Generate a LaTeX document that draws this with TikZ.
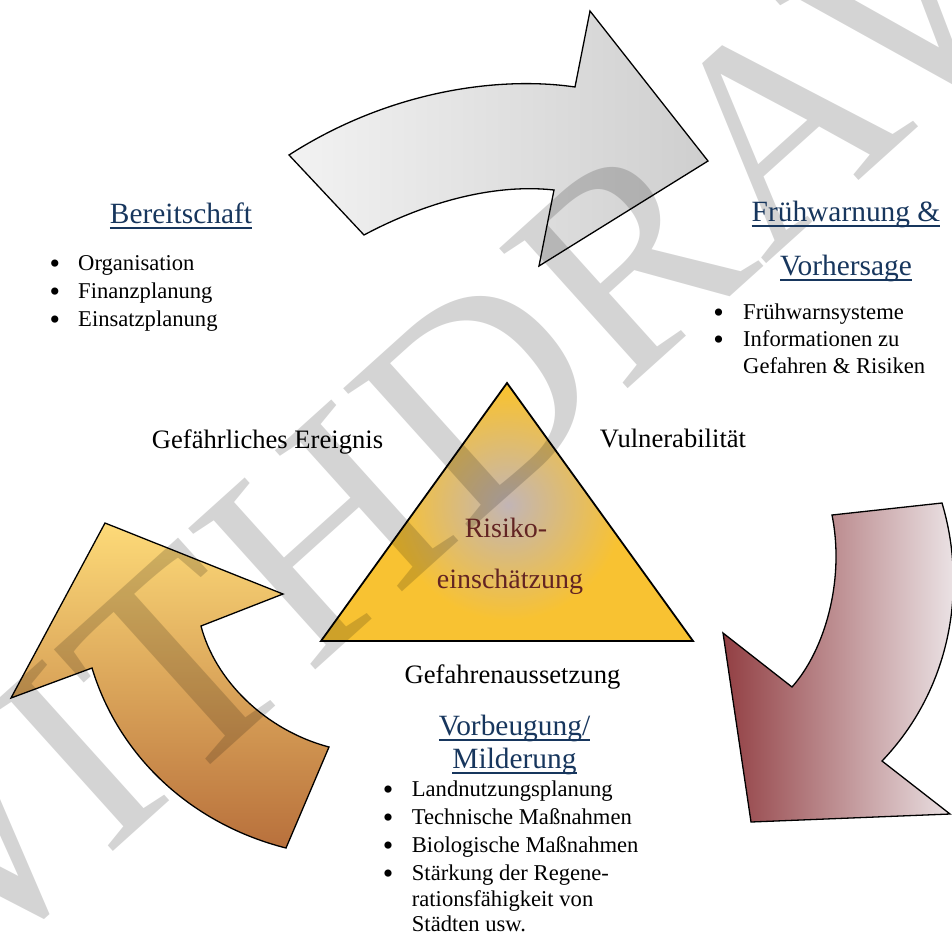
\documentclass[tikz,border=0pt]{standalone}
\usepackage{fontspec}
\setmainfont{Liberation Serif}
\definecolor{navy}{HTML}{17365D}
\definecolor{risk}{HTML}{632423}
\definecolor{triY}{HTML}{F8C232}
\definecolor{glow}{HTML}{C2B5B6}
\newcommand\hul[1]{\setbox0=\hbox{#1}\rlap{\rule[-0.19em]{\wd0}{0.07em}}\box0}
\newcommand\bul{\raisebox{-3pt}{\makebox[0pt][c]{•}}}
\tikzset{
  head/.style={inner sep=0, anchor=base, text=navy, font=\fontsize{29.4}{32}\selectfont},
  lbl/.style={inner sep=0, anchor=base, font=\fontsize{26.6}{30}\selectfont},
  item/.style={inner sep=0, anchor=base west, font=\fontsize{22.6}{26}\selectfont},
  dot/.style={inner sep=0, anchor=base, font=\fontsize{30}{30}\selectfont},
  arrowshape/.style={draw=black, line width=1.3pt, line join=miter},
}
\begin{document}
\begin{tikzpicture}[x=1pt,y=-1pt]
\useasboundingbox (0,0) rectangle (952,937);

% top grey arrow
\shadedraw[arrowshape, left color=black!5, right color=black!19]
  (289,155) -- (364,235) .. controls (420,205) and (490,183) .. (554,190)
  -- (539,266) -- (708,161) -- (590,11) -- (575,87)
  .. controls (500,76) and (390,90) .. (289,155) -- cycle;

% left yellow arrow
\shadedraw[arrowshape, top color={rgb,255:red,253;green,218;blue,120}, middle color={rgb,255:red,235;green,182;blue,94}, bottom color={rgb,255:red,184;green,112;blue,60}]
  (105,523) -- (283,594) -- (201,626) .. controls (215,680) and (265,730) .. (329,747)
  -- (286,848) .. controls (195,825) and (120,760) .. (92,668)
  -- (11,698) -- cycle;

% right maroon arrow
\shadedraw[arrowshape, left color={rgb,255:red,146;green,63;blue,67}, right color={rgb,255:red,240;green,236;blue,238}]
  (832,515) -- (942,503) .. controls (968,590) and (950,690) .. (882,761)
  -- (950,814) -- (751,822) -- (723,633) -- (792,687)
  .. controls (825,650) and (845,580) .. (832,515) -- cycle;

% triangle
\fill[triY] (507,383) -- (693,641) -- (321,641) -- cycle;
\begin{scope}
  \clip (507,383) -- (693,641) -- (321,641) -- cycle;
  \shade[inner color=glow, outer color=triY] (508,505) circle (115);
\end{scope}
\draw[line width=1.8pt, line join=miter] (507,383) -- (693,641) -- (321,641) -- cycle;

% watermark
\node[inner sep=0, anchor=base, rotate=42, text=black, text opacity=0.17,
  font=\fontsize{290}{290}\selectfont] (wm) at (582,430) {WITHDRAWN};

% Bereitschaft
\node[head] (prep) at (181,223) {\hul{Bereitschaft}};
\node[dot] (d1) at (55,270.7) {\bul};
\node[item] (i1) at (78,270.7) {Organisation};
\node[dot] (d2) at (55,298.7) {\bul};
\node[item] (i2) at (78,298.7) {Finanzplanung};
\node[dot] (d3) at (55,326.7) {\bul};
\node[item] (i3) at (78,326.7) {Einsatzplanung};

% Fruehwarnung
\node[head] (warn1) at (846,221.7) {\hul{Frühwarnung \&}};
\node[head] (warn2) at (846,275) {\hul{Vorhersage}};
\node[dot] (d4) at (718.5,319) {\bul};
\node[item] (i4) at (743,319) {Frühwarnsysteme};
\node[dot] (d5) at (718.5,346.5) {\bul};
\node[item] (i5) at (743,346.5) {Informationen zu};
\node[item] (i6) at (743,373) {Gefahren \& Risiken};

% labels
\node[lbl] (haz) at (267.5,448) {Gefährliches Ereignis};
\node[lbl] (vul) at (673,447) {Vulnerabilität};
\node[lbl] (exp) at (512.5,683) {Gefahrenaussetzung};
\node[lbl, text=risk, font=\fontsize{28}{30}\selectfont] (risk1) at (506,537) {Risiko-};
\node[lbl, text=risk, font=\fontsize{28}{30}\selectfont] (risk2) at (510,588) {einschätzung};

% Vorbeugung
\node[head] (prev1) at (514.5,735) {\hul{Vorbeugung/}};
\node[head] (prev2) at (514.5,768) {\hul{Milderung}};
\node[dot] (d7) at (388,796.7) {\bul};
\node[item] (i7) at (411.7,796.7) {Landnutzungsplanung};
\node[dot] (d8) at (388,824.5) {\bul};
\node[item] (i8) at (411.7,824.5) {Technische Maßnahmen};
\node[dot] (d9) at (388,852.5) {\bul};
\node[item] (i9) at (411.7,852.5) {Biologische Maßnahmen};
\node[dot] (d10) at (388,880) {\bul};
\node[item] (i10) at (411.7,880) {Stärkung der Regene-};
\node[item] (i11) at (411.7,906) {rationsfähigkeit von};
\node[item] (i12) at (411.7,931.5) {Städten usw.};
\end{tikzpicture}
\end{document}
